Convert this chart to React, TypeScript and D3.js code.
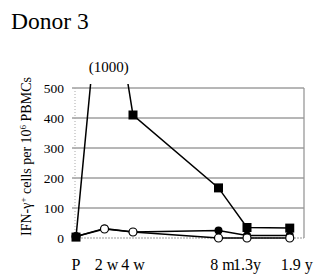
import React from 'react'
import * as d3 from 'd3'

// time points, placed on a slot axis like the original sheet
const timeLabels = ['P', '2 w', '4 w', '8 m', '1.3y', '1.9 y']
const timeSlots = [0, 1, 2, 5, 6, 7.5]
const labelShift = [0, 2, 0, 4, 0, 7]

const squareSeries = [3, 1000, 410, 167, 35, 33]
const filledCircleSeries = [5, 32, 20, 25, 8, 8]
const openCircleSeries = [5, 30, 20, 0, 0, 0]

const yTicks = [0, 100, 200, 300, 400, 500]

const W = 319
const H = 275
const margin = { left: 76, right: 15, top: 88, bottom: 37 }

const App = () => {
    const x = d3.scaleLinear().domain([0, 8]).range([margin.left, W - margin.right])
    const y = d3.scaleLinear().domain([0, 500]).range([H - margin.bottom, margin.top])

    const line = d3.line<number>()
        .x((d, i) => x(timeSlots[i]))
        .y(d => y(d))

    const font = "'Liberation Serif', 'DejaVu Serif', serif"
    const x0 = x(0)
    const x1 = x(8)

    return (
        <svg width={W} height={H} style={{ position: 'absolute', left: 0, top: 0, fontFamily: font }}>
            <defs>
                <clipPath id="plotClip">
                    <rect x={0} y={y(500) - 4} width={W} height={H} />
                </clipPath>
            </defs>
            <text x={11} y={29} fontSize={23.5}>Donor 3</text>
            <text x={x(1.15)} y={72} fontSize={15} textAnchor="middle">(1000)</text>

            {/* grid */}
            {yTicks.filter(t => t > 0).map(t => (
                <line key={t} x1={x0 - 4} x2={x1} y1={y(t)} y2={y(t)} stroke="#6e6e6e" strokeWidth={1} />
            ))}
            <line x1={x0 - 1} x2={x0 - 1} y1={y(500)} y2={y(0)} stroke="#aaa" strokeDasharray="1,2" />
            <line x1={x0 - 1} x2={x1} y1={y(0)} y2={y(0)} stroke="#999" strokeDasharray="2,1" />
            <line x1={x1} x2={x1} y1={y(500)} y2={y(0)} stroke="#999" strokeWidth={1.3} />

            {yTicks.map(t => (
                <text key={t} x={64} y={y(t) + 4.5} fontSize={13.5} textAnchor="end">{t}</text>
            ))}

            <text transform={`translate(31,${(y(0) + 75) / 2}) rotate(-90)`} fontSize={14} textAnchor="middle">
                IFN-γ<tspan dy={-5} fontSize={9}>+</tspan><tspan dy={5}> cells per 10</tspan><tspan dy={-5} fontSize={9}>6</tspan><tspan dy={5}> PBMCs</tspan>
            </text>

            {timeLabels.map((l, i) => (
                <text key={l} x={x(timeSlots[i]) + labelShift[i]} y={270} fontSize={16} textAnchor="middle">{l}</text>
            ))}

            <g clipPath="url(#plotClip)" fill="none" stroke="#000" strokeWidth={1.5}>
                <path d={line(filledCircleSeries) || ''} />
                <path d={line(openCircleSeries) || ''} />
                <path d={line(squareSeries) || ''} />
            </g>
            <g clipPath="url(#plotClip)">
                {filledCircleSeries.map((v, i) => (
                    <circle key={'f' + i} cx={x(timeSlots[i])} cy={y(v)} r={4} fill="#000" />
                ))}
                {openCircleSeries.map((v, i) => (
                    <circle key={'o' + i} cx={x(timeSlots[i])} cy={y(v)} r={4} fill="#fff" stroke="#000" strokeWidth={1.2} />
                ))}
                {squareSeries.map((v, i) => (
                    <rect key={'s' + i} x={x(timeSlots[i]) - 4.5} y={y(v) - 4.5} width={9} height={9} fill="#000" />
                ))}
            </g>
        </svg>
    )
}

export default App
